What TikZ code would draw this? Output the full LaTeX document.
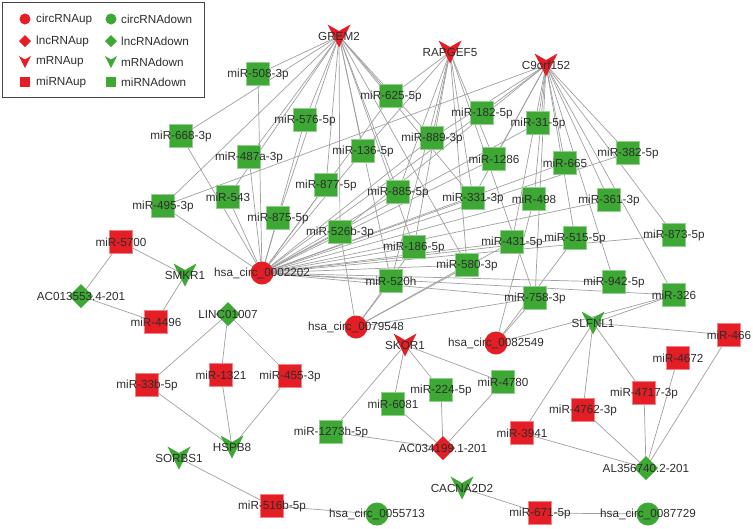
\documentclass[tikz,border=0pt]{standalone}
\usepackage{fontspec}
\setmainfont{Liberation Sans}
\usetikzlibrary{backgrounds}
\definecolor{redc}{RGB}{228,30,36}
\definecolor{greenc}{RGB}{62,168,53}
\definecolor{edgec}{RGB}{160,160,160}
\definecolor{txtc}{RGB}{45,45,45}
\definecolor{framec}{RGB}{70,70,70}
\newcommand{\lbfont}{\fontsize{11.7}{12}\selectfont}
\tikzset{
  lbl/.style={font=\lbfont, text=txtc, inner sep=0pt, minimum width=27pt, minimum height=27pt},
  sqr/.style={lbl, path picture={\fill[#1, draw=#1!55!white, line width=0.8pt]
     ([shift={(-11.3,-11.3)}]path picture bounding box.center) rectangle
     ([shift={(11.3,11.3)}]path picture bounding box.center);}},
  circ/.style={lbl, path picture={\fill[#1] (path picture bounding box.center) circle[radius=11.5];}},
  vee/.style={lbl, path picture={\fill[#1]
     ([shift={(-11.5,-11.5)}]path picture bounding box.center) --
     ([shift={(0,-5)}]path picture bounding box.center) --
     ([shift={(11.5,-11.5)}]path picture bounding box.center) --
     ([shift={(0,11.5)}]path picture bounding box.center) -- cycle;}},
  dia/.style={lbl, path picture={\fill[#1]
     ([shift={(0,-12)}]path picture bounding box.center) --
     ([shift={(12,0)}]path picture bounding box.center) --
     ([shift={(0,12)}]path picture bounding box.center) --
     ([shift={(-12,0)}]path picture bounding box.center) -- cycle;}},
  edge/.style={draw=edgec, line width=0.7pt},
  legtxt/.style={font=\lbfont, text=txtc, anchor=west, inner sep=0pt},
}
\begin{document}
\begin{tikzpicture}[x=1pt,y=-1pt]
\useasboundingbox (0,0) rectangle (753,528);
% legend
\draw[framec, line width=1pt] (2.5,2.5) rectangle (204,97);
\fill[redc] (25,19) circle[radius=5.5] coordinate (lg1);
\fill[greenc] (111,19) circle[radius=5.5] coordinate (lg2);
\fill[redc] (25,35) -- (31,41) -- (25,47) -- (19,41) -- cycle;
\fill[greenc] (111,35) -- (117,41) -- (111,47) -- (105,41) -- cycle;
\fill[redc] (19,56) -- (25,59.5) -- (31,56) -- (25,68) -- cycle;
\fill[greenc] (105,56) -- (111,59.5) -- (117,56) -- (111,68) -- cycle;
\fill[redc] (20,77) rectangle (30,87);
\fill[greenc] (106,77) rectangle (116,87);
\node[legtxt] (l1) at (36,19) {circRNAup};
\node[legtxt] (l2) at (121,19) {circRNAdown};
\node[legtxt] (l3) at (36,41) {lncRNAup};
\node[legtxt] (l4) at (121,41) {lncRNAdown};
\node[legtxt] (l5) at (36,62) {mRNAup};
\node[legtxt] (l6) at (121,62) {mRNAdown};
\node[legtxt] (l7) at (36,82) {miRNAup};
\node[legtxt] (l8) at (121,82) {miRNAdown};

% mRNAs
\node[vee=redc] (grem) at (339,36) {GREM2};
\node[vee=redc] (rap) at (450,52) {RAPGEF5};
\node[vee=redc] (c9) at (546,65) {C9orf152};
\node[vee=redc] (skor) at (405,345) {SKOR1};
\node[vee=greenc] (smkr) at (185,275) {SMKR1};
\node[vee=greenc] (slfnl) at (593,323) {SLFNL1};
\node[vee=greenc] (hspb) at (232,447) {HSPB8};
\node[vee=greenc] (sorbs) at (179,458) {SORBS1};
\node[vee=greenc] (cacna) at (462,488) {CACNA2D2};
% lncRNAs
\node[dia=greenc] (linc) at (228,314) {LINC01007};
\node[dia=greenc] (ac0135) at (81,296) {AC013553.4-201};
\node[dia=redc] (ac0341) at (443,448) {AC034199.1-201};
\node[dia=greenc] (al356) at (646,468) {AL356740.2-201};
% circRNAs
\node[circ=redc] (c2202) at (262,273) {hsa\_circ\_0002202};
\node[circ=redc] (c9548) at (356,327) {hsa\_circ\_0079548};
\node[circ=redc] (c2549) at (496,343) {hsa\_circ\_0082549};
\node[circ=greenc] (c5713) at (377,514) {hsa\_circ\_0055713};
\node[circ=greenc] (c7729) at (648,514) {hsa\_circ\_0087729};
% miRNAs down
\node[sqr=greenc] (m508) at (258,74) {miR-508-3p};
\node[sqr=greenc] (m668) at (181,136) {miR-668-3p};
\node[sqr=greenc] (m576) at (305,120) {miR-576-5p};
\node[sqr=greenc] (m625) at (391,96) {miR-625-5p};
\node[sqr=greenc] (m182) at (482,113) {miR-182-5p};
\node[sqr=greenc] (m31) at (538,123) {miR-31-5p};
\node[sqr=greenc] (m382) at (628,153) {miR-382-5p};
\node[sqr=greenc] (m889) at (432,138) {miR-889-3p};
\node[sqr=greenc] (m136) at (363,151) {miR-136-5p};
\node[sqr=greenc] (m487) at (249,157) {miR-487a-3p};
\node[sqr=greenc] (m1286) at (494,159) {miR-1286};
\node[sqr=greenc] (m665) at (565,163) {miR-665};
\node[sqr=greenc] (m877) at (326,185) {miR-877-5p};
\node[sqr=greenc] (m885) at (398,192) {miR-885-5p};
\node[sqr=greenc] (m331) at (473,198) {miR-331-3p};
\node[sqr=greenc] (m498) at (534,199) {miR-498};
\node[sqr=greenc] (m361) at (609,200) {miR-361-3p};
\node[sqr=greenc] (m543) at (228,197) {miR-543};
\node[sqr=greenc] (m495) at (163,206) {miR-495-3p};
\node[sqr=greenc] (m875) at (278,218) {miR-875-5p};
\node[sqr=greenc] (m526) at (340,232) {miR-526b-3p};
\node[sqr=greenc] (m186) at (414,247) {miR-186-5p};
\node[sqr=greenc] (m431) at (512,242) {miR-431-5p};
\node[sqr=greenc] (m515) at (575,238) {miR-515-5p};
\node[sqr=greenc] (m873) at (674,235) {miR-873-5p};
\node[sqr=greenc] (m580) at (467,265) {miR-580-3p};
\node[sqr=greenc] (m520) at (391,281) {miR-520h};
\node[sqr=greenc] (m942) at (614,282) {miR-942-5p};
\node[sqr=greenc] (m758) at (535,298) {miR-758-3p};
\node[sqr=greenc] (m326) at (674,295) {miR-326};
\node[sqr=greenc] (m4780) at (503,382) {miR-4780};
\node[sqr=greenc] (m224) at (441,390) {miR-224-5p};
\node[sqr=greenc] (m6081) at (393,404) {miR-6081};
\node[sqr=greenc] (m1273) at (331,432) {miR-1273h-5p};
% miRNAs up
\node[sqr=redc] (m5700) at (121,242) {miR-5700};
\node[sqr=redc] (m4496) at (156,322) {miR-4496};
\node[sqr=redc] (m33b) at (147,385) {miR-33b-5p};
\node[sqr=redc] (m1321) at (221,375) {miR-1321};
\node[sqr=redc] (m455) at (290,376) {miR-455-3p};
\node[sqr=redc] (m466) at (729,335) {miR-466};
\node[sqr=redc] (m4672) at (678,358) {miR-4672};
\node[sqr=redc] (m4717) at (644,393) {miR-4717-3p};
\node[sqr=redc] (m4762) at (583,410) {miR-4762-3p};
\node[sqr=redc] (m3941) at (522,433) {miR-3941};
\node[sqr=redc] (m516) at (272,506) {miR-516b-5p};
\node[sqr=redc] (m671) at (540,513) {miR-671-5p};

\begin{scope}[on background layer]
\foreach \t in {m508,m668,m495,m487,m576,m625,m136,m889,m877,m875,m543,m526,m885,m186,m520,m331,m580}
  \draw[edge] (grem.center) -- (\t.center);
\foreach \t in {m625,m889,m885,m1286,m331,m186,m580,m758,m520,m136}
  \draw[edge] (rap.center) -- (\t.center);
\foreach \t in {m182,m31,m665,m498,m382,m361,m873,m326,m942,m515,m758,m431,m1286,m331,m495,m526,m889}
  \draw[edge] (c9.center) -- (\t.center);
\foreach \t in {m668,m508,m495,m543,m487,m875,m576,m877,m136,m625,m526,m885,m889,m182,m1286,m31,m331,m498,m665,m361,m382,m186,m431,m515,m873,m580,m520,m942,m758,m326}
  \draw[edge] (c2202.center) -- (\t.center);
\foreach \t in {m526,m520,m580,m758,m186,m431}
  \draw[edge] (c9548.center) -- (\t.center);
\foreach \t in {m758,m326,m515,m498}
  \draw[edge] (c2549.center) -- (\t.center);
\foreach \t in {m326,m466,m4717,m4762,m3941}
  \draw[edge] (slfnl.center) -- (\t.center);
\foreach \t in {m3941,m4762,m4717,m4672,m466}
  \draw[edge] (al356.center) -- (\t.center);
\foreach \t in {m1273,m6081,m224,m4780}
  \draw[edge] (skor.center) -- (\t.center);
\foreach \t in {m1273,m6081,m224,m4780}
  \draw[edge] (ac0341.center) -- (\t.center);
\foreach \t in {m33b,m1321,m455}
  \draw[edge] (linc.center) -- (\t.center);
\foreach \t in {m33b,m1321,m455}
  \draw[edge] (hspb.center) -- (\t.center);
\foreach \t in {m5700,m4496}
  \draw[edge] (smkr.center) -- (\t.center);
\foreach \t in {m5700,m4496}
  \draw[edge] (ac0135.center) -- (\t.center);
\draw[edge] (sorbs.center) -- (m516.center) -- (c5713.center);
\draw[edge] (cacna.center) -- (m671.center) -- (c7729.center);
\end{scope}
\end{tikzpicture}
\end{document}
